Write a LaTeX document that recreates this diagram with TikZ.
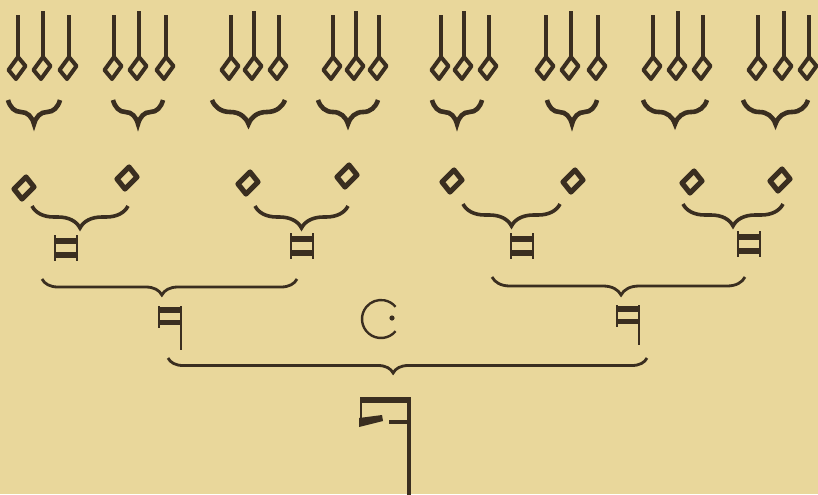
\documentclass[tikz,border=0pt]{standalone}
\usepackage[rgb]{xcolor}
\usepackage{tikz}
\usetikzlibrary{
  decorations.pathreplacing,%
  calc
}
\definecolor{ink}{RGB}{58,46,32}
\definecolor{paper}{RGB}{233,215,155}
\tikzset{x=0.5pt, y=-0.5pt}
\tikzset{
  minim/.pic={
    \draw[ink, line width=2pt, line join=round] (1,-11) -- (8.5,-2) -- (-1,11) -- (-8.5,2) -- cycle;
    \draw[ink, line width=1.9pt] (1,-11) -- (1,-#1);
  },
  semibreve/.pic={
    \draw[ink, line width=2.6pt, line join=round] (2,-11) -- (10,-1) -- (-2,11) -- (-10,1) -- cycle;
  },
  breve/.pic={
    \draw[ink, line width=1pt] (-11,-13) -- (-11,13) (11,-13) -- (11,13);
    \fill[ink] (-11,-10) rectangle (11,-4);
    \fill[ink] (-11,4) rectangle (11,10);
  },
  longa/.pic={
    \draw[ink, line width=1pt] (-11,-10) -- (-11,12);
    \draw[ink, line width=1.3pt] (11,-10) -- (11,#1);
    \fill[ink] (-11,-9) rectangle (11,-3);
    \fill[ink] (-11,4) rectangle (11,9);
  },
  maxima/.pic={
    \fill[ink] (-25,-14) rectangle (25,-8);
    \draw[ink, line width=1.3pt] (-24,-13) -- (-24,14);
    \fill[ink] (-26,7) -- (-3,4) -- (-2,10) -- (-26,16) -- cycle;
    \fill[ink] (4,9) rectangle (25,13);
    \draw[ink, line width=1.7pt] (24,-14) -- (24,#1);
  },
  sbrace/.style={draw=ink, line width=2.3pt,
    decorate, decoration={brace, mirror, amplitude=12pt}},
  pbrace/.style={draw=ink, line width=1.8pt,
    decorate, decoration={brace, mirror, amplitude=11pt}},
  lbrace/.style={draw=ink, line width=1.4pt,
    decorate, decoration={brace, mirror, amplitude=#1}}
}

\begin{document}
\begin{tikzpicture}
  \fill[paper] (0,0) rectangle (818,494);
  \useasboundingbox (0,0) rectangle (818,494);

  % minims, three to a semibreve
  \foreach \g/\a/\b/\c in {1/17/42/68, 2/113/138/165, 3/230/253/278, 4/332/355/378,
                           5/440/463/488, 6/545/570/597, 7/652/677/702, 8/757/783/808} {
    \coordinate (m\g a) at (\a,68);
    \coordinate (m\g b) at (\b,68);
    \coordinate (m\g c) at (\c,68);
    \pic at (m\g a) {minim=53};
    \pic at (m\g b) {minim=57};
    \pic at (m\g c) {minim=53};
  }
  \foreach \g/\l/\r in {1/8/60, 2/113/163, 3/212/285, 4/318/378,
                        5/432/482, 6/547/597, 7/643/707, 8/743/808} {
    \coordinate (w\g l) at (\l,100);
    \coordinate (w\g r) at (\r,100);
    \draw[sbrace] (w\g l) -- (w\g r);
  }

  % semibreves
  \coordinate (s1) at (24,188);
  \coordinate (s2) at (127,178);
  \coordinate (s3) at (248,183);
  \coordinate (s4) at (347,176);
  \coordinate (s5) at (452,181);
  \coordinate (s6) at (573,181);
  \coordinate (s7) at (692,182);
  \coordinate (s8) at (780,180);
  \foreach \s in {s1,s2,s3,s4,s5,s6,s7,s8}
    \pic at (\s) {semibreve};

  \coordinate (p1l) at (32,206);   \coordinate (p1r) at (128,206);
  \coordinate (p2l) at (255,206);  \coordinate (p2r) at (348,206);
  \coordinate (p3l) at (463,204);  \coordinate (p3r) at (560,204);
  \coordinate (p4l) at (683,204);  \coordinate (p4r) at (783,204);
  \draw[pbrace] (p1l) -- (p1r);
  \draw[pbrace] (p2l) -- (p2r);
  \draw[pbrace] (p3l) -- (p3r);
  \draw[pbrace] (p4l) -- (p4r);

  % breves
  \coordinate (b1) at (66,248);
  \coordinate (b2) at (302,246);
  \coordinate (b3) at (522,246);
  \coordinate (b4) at (749,244);
  \foreach \b in {b1,b2,b3,b4}
    \pic at (\b) {breve};

  \coordinate (q1l) at (42,279);   \coordinate (q1r) at (297,279);
  \coordinate (q2l) at (492,277);  \coordinate (q2r) at (745,277);
  \draw[lbrace=8pt, decoration={aspect=0.47}] (q1l) -- (q1r);
  \draw[lbrace=9pt, decoration={aspect=0.51}] (q2l) -- (q2r);

  % longae and the sign
  \coordinate (l1) at (170,316);
  \coordinate (l2) at (628,315);
  \pic at (l1) {longa=34};
  \pic at (l2) {longa=30};

  \coordinate (tempus) at (381,319);
  \draw[ink, line width=1.2pt] ($(tempus)+(40:19)$) arc[start angle=40, end angle=320, radius=19];
  \fill[ink] (392,318) circle (1.3pt);

  \coordinate (r1l) at (168,358);  \coordinate (r1r) at (647,358);
  \draw[lbrace=7.5pt, decoration={aspect=0.47}] (r1l) -- (r1r);

  % maxima
  \coordinate (mx) at (385,411);
  \pic at (mx) {maxima=90};
\end{tikzpicture}
\end{document}
